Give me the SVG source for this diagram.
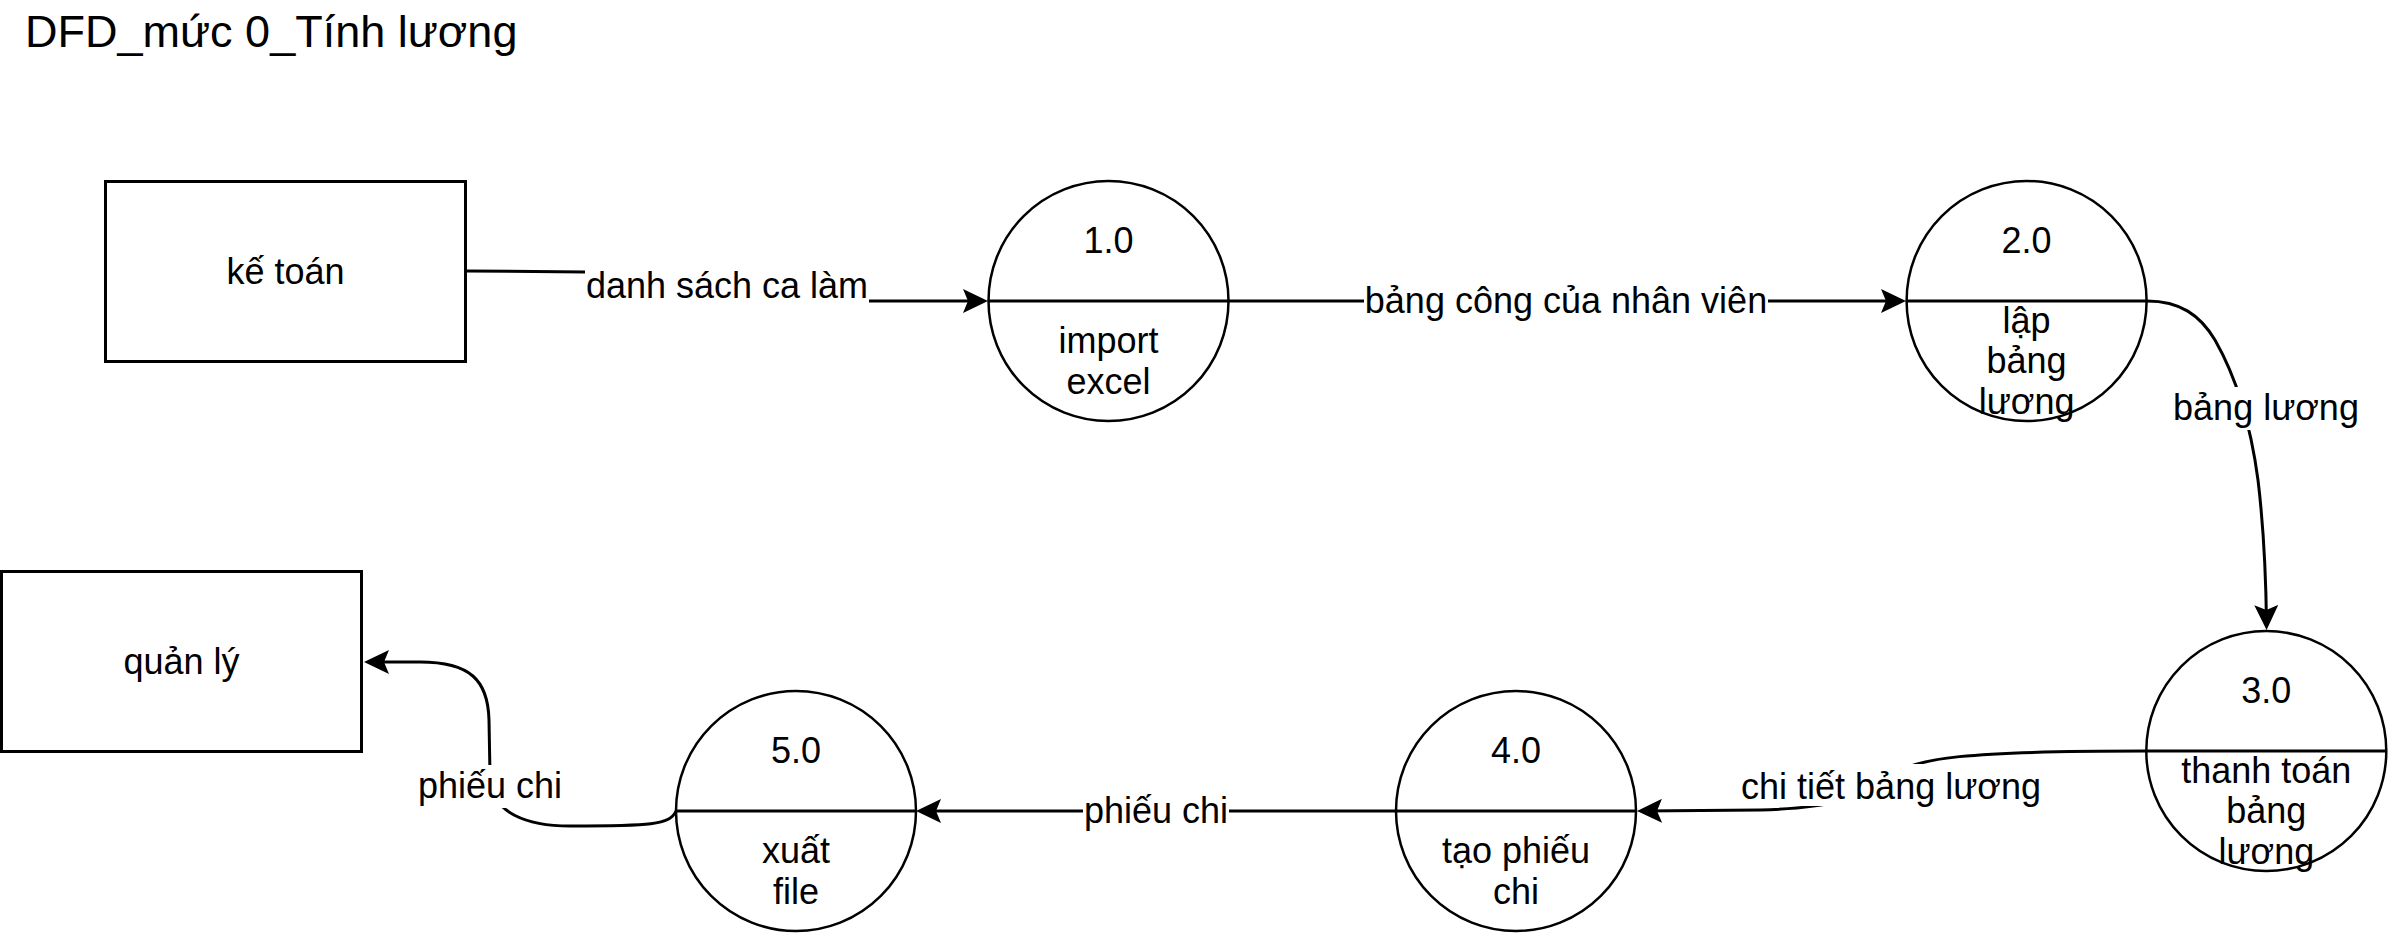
<svg xmlns="http://www.w3.org/2000/svg" width="2394" height="936" viewBox="0 0 2394 936">
<style>
text{font-family:"Liberation Sans",Arial,sans-serif;fill:#000;}
.t{font-size:36px;text-anchor:middle;}
.title{font-size:45px;}
.ent{fill:#fff;stroke:#000;stroke-width:3;}
.proc{fill:#fff;stroke:#000;stroke-width:2.5;}
.div{stroke:#000;stroke-width:3;fill:none;}
.edge{fill:none;stroke:#000;stroke-width:3;marker-end:url(#arr);}
.lbg{fill:#fff;stroke:none;}
</style>
<defs>
<marker id="arr" markerUnits="userSpaceOnUse" viewBox="0 0 25 24" refX="19" refY="12" markerWidth="25" markerHeight="24" orient="auto">
<path d="M0,0 L25,12 L0,24 L5,12 Z" fill="#000"/>
</marker>
</defs>
<rect width="2394" height="936" fill="#fff"/>
<text class="title" x="25" y="47">DFD_mức 0_Tính lương</text>

<g id="ke-toan">
<rect class="ent" x="105.5" y="181.5" width="360" height="180"/>
<text class="t" x="285.5" y="284">kế toán</text>
</g>
<g id="quan-ly">
<rect class="ent" x="1.5" y="571.5" width="360" height="180"/>
<text class="t" x="181.5" y="674">quản lý</text>
</g>

<g id="p1">
<circle class="proc" cx="1108.5" cy="301" r="120"/>
<line class="div" x1="988.5" y1="301" x2="1228.5" y2="301"/>
<text class="t" x="1108.5" y="253">1.0</text>
<text class="t" x="1108.5" y="353">import</text>
<text class="t" x="1108.5" y="393.5">excel</text>
</g>
<g id="p2">
<circle class="proc" cx="2026.6" cy="301" r="120"/>
<line class="div" x1="1906.6" y1="301" x2="2146.6" y2="301"/>
<text class="t" x="2026.6" y="253">2.0</text>
<text class="t" x="2026.6" y="332.5">lập</text>
<text class="t" x="2026.6" y="373">bảng</text>
<text class="t" x="2026.6" y="413.5">lương</text>
</g>
<g id="p3">
<circle class="proc" cx="2266.3" cy="751" r="120"/>
<line class="div" x1="2146.3" y1="751" x2="2386.3" y2="751"/>
<text class="t" x="2266.3" y="703">3.0</text>
<text class="t" x="2266.3" y="782.5">thanh toán</text>
<text class="t" x="2266.3" y="823">bảng</text>
<text class="t" x="2266.3" y="863.5">lương</text>
</g>
<g id="p4">
<circle class="proc" cx="1516" cy="811" r="120"/>
<line class="div" x1="1396" y1="811" x2="1636" y2="811"/>
<text class="t" x="1516" y="763">4.0</text>
<text class="t" x="1516" y="863">tạo phiếu</text>
<text class="t" x="1516" y="903.5">chi</text>
</g>
<g id="p5">
<circle class="proc" cx="796" cy="811" r="120"/>
<line class="div" x1="676" y1="811" x2="916" y2="811"/>
<text class="t" x="796" y="763">5.0</text>
<text class="t" x="796" y="863">xuất</text>
<text class="t" x="796" y="903.5">file</text>
</g>

<g id="connectors">
<path class="edge" d="M466,271 L585,272 C725,273 735,300 870,301 L982,301"/>
<path class="edge" d="M1229,301 L1900,301"/>
<path class="edge" d="M2147,301 C2180,301 2200,315 2215,340 C2235,375 2250,420 2258,480 C2264,530 2266,580 2266.5,624"/>
<path class="edge" d="M2146,751 C1960,751 1920,758 1890,775 C1860,800 1830,808 1760,810 L1643,811"/>
<path class="edge" d="M1396,811 L922,811"/>
<path class="edge" d="M676,811 C670,825 650,826 570,826 C530,826 490,815 490,775 L489,720 C488,680 470,662 420,662 L370,662"/>

<rect class="lbg" x="585" y="265" width="284" height="43"/>
<text class="t" x="727" y="298">danh sách ca làm</text>
<rect class="lbg" x="1364" y="280" width="404" height="43"/>
<text class="t" x="1566" y="313">bảng công của nhân viên</text>
<rect class="lbg" x="2174" y="387" width="185" height="43"/>
<text class="t" x="2266" y="420">bảng lương</text>
<rect class="lbg" x="1740" y="764" width="302" height="42"/>
<text class="t" x="1891" y="799">chi tiết bảng lương</text>
<rect class="lbg" x="1083" y="790" width="146" height="43"/>
<text class="t" x="1156" y="823">phiếu chi</text>
<rect class="lbg" x="418" y="765" width="145" height="43"/>
<text class="t" x="490" y="798">phiếu chi</text>
</g>
</svg>
